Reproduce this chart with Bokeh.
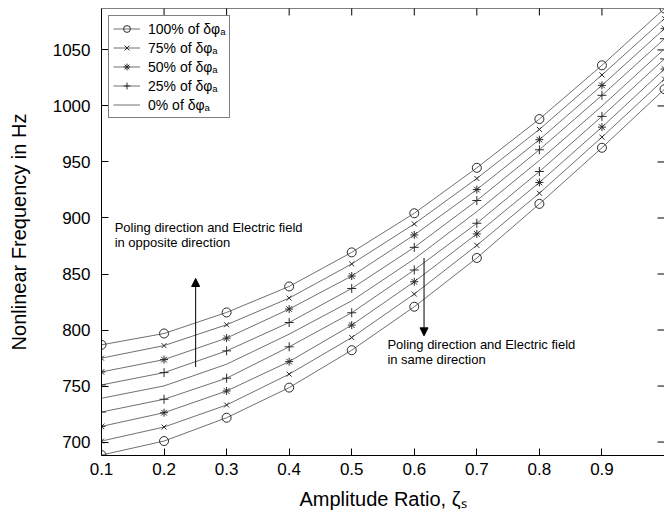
import math
from bokeh.plotting import figure
from bokeh.models import (Range1d, FixedTicker, Legend, LegendItem,
                          Arrow, NormalHead, Span)
from bokeh.embed import file_html
from bokeh.resources import INLINE
from bokeh.core.properties import value

# ---------------- data ----------------
x_ratio = [0.1, 0.2, 0.3, 0.4, 0.5, 0.6, 0.7, 0.8, 0.9, 1.0]

# poling direction and electric field in opposite direction (upper curves)
opp_100 = [786.8, 796.9, 815.7, 838.9, 869.3, 904.2, 944.8, 988.3, 1036.3, 1087.0]
opp_75 = [774.9, 786.1, 804.7, 828.5, 859.0, 894.7, 935.3, 979.1, 1027.7, 1078.0]
opp_50 = [762.6, 773.6, 792.8, 818.7, 848.2, 884.9, 925.4, 969.9, 1018.4, 1069.0]
opp_25 = [751.0, 762.0, 781.4, 806.7, 837.1, 873.8, 915.6, 960.9, 1009.5, 1060.0]
zero_0 = [739.1, 750.1, 769.5, 796.3, 826.1, 863.4, 905.7, 951.4, 999.9, 1051.0]
# poling direction and electric field in same direction (lower curves)
same_25 = [726.8, 738.2, 757.0, 785.0, 815.4, 853.6, 895.3, 941.5, 990.7, 1042.0]
same_50 = [714.0, 726.2, 745.6, 771.8, 804.4, 843.1, 885.8, 931.7, 981.1, 1033.0]
same_75 = [700.9, 713.4, 733.1, 760.6, 793.3, 832.1, 875.6, 922.1, 972.2, 1024.0]
same_100 = [688.4, 700.9, 721.7, 748.6, 782.0, 820.8, 864.3, 912.6, 962.7, 1015.0]

legend_labels = ["100% of δφₐ", "75% of δφₐ", "50% of δφₐ", "25% of δφₐ", "0% of δφₐ"]
x_ticks = [0.1, 0.2, 0.3, 0.4, 0.5, 0.6, 0.7, 0.8, 0.9, 1.0]
x_labeled_ticks = [0.1, 0.2, 0.3, 0.4, 0.5, 0.6, 0.7, 0.8, 0.9]
y_ticks = [700, 750, 800, 850, 900, 950, 1000, 1050]

note_opp = ["Poling direction and Electric field", "in opposite direction"]
note_same = ["Poling direction and Electric field", "in same direction"]

X_START, X_END = 0.1, 1.0
Y_START, Y_END = 688, 1087

# ---------------- figure ----------------
FONT = "Liberation Sans"
p = figure(width=664, height=520, output_backend="svg", toolbar_location=None,
           x_range=Range1d(X_START, X_END), y_range=Range1d(Y_START, Y_END),
           min_border_left=101, min_border_right=0, min_border_top=8,
           min_border_bottom=65)
p.grid.visible = False
p.outline_line_color = None
p.background_fill_color = "white"
p.border_fill_color = "white"

TICK = 7
for ax in (p.xaxis[0], p.yaxis[0]):
    ax.major_tick_in = TICK
    ax.major_tick_out = 0
    ax.minor_tick_line_color = None
    ax.axis_line_color = "black"
    ax.major_tick_line_color = "black"
    ax.major_label_text_font = FONT
    ax.major_label_text_color = "black"
    ax.major_label_text_font_size = "17px"
    ax.axis_label_text_font = FONT
    ax.axis_label_text_font_style = "normal"
    ax.axis_label_text_color = "black"
    ax.axis_label_text_font_size = "20px"

xa = p.xaxis[0]
ya = p.yaxis[0]
xa.ticker = FixedTicker(ticks=x_labeled_ticks)
ya.ticker = FixedTicker(ticks=y_ticks)
xa.axis_label = "Amplitude Ratio, ζₛ"
ya.axis_label = "Nonlinear Frequency in Hz"
xa.major_label_standoff = 7
xa.axis_label_standoff = 10
ya.major_label_standoff = 11
ya.axis_label_standoff = 20

# top frame edge (the right edge lies just outside the picture in the reference)
p.add_layout(Span(location=Y_END, dimension="width", line_color="black", line_width=1))

# inward ticks on the top and right edges (half of each dash is clipped by the frame)
p.scatter(x_ticks, [Y_END] * len(x_ticks), marker="dash", size=2 * TICK,
          angle=math.pi / 2, line_color="black", line_width=1)
p.scatter([X_END] * len(y_ticks), y_ticks, marker="dash", size=2 * TICK,
          line_color="black", line_width=1)

LINE_C = "#707070"
MARK_C = "#2a2a2a"

series = [
    (opp_100, "circle", 9), (opp_75, "x", 7), (opp_50, "asterisk", 8),
    (opp_25, "cross", 9), (zero_0, None, 0),
    (same_25, "cross", 9), (same_50, "asterisk", 8), (same_75, "x", 7),
    (same_100, "circle", 9),
]

legend_items = []
for i, (ys, marker, size) in enumerate(series):
    rs = []
    lr = p.line(x_ratio, ys, line_color=LINE_C, line_width=1)
    rs.append(lr)
    if marker:
        sr = p.scatter(x_ratio, ys, marker=marker, size=size, fill_color=None,
                       line_color=MARK_C, line_width=1)
        rs.append(sr)
    if i < 5:
        legend_items.append(LegendItem(label=legend_labels[i], renderers=rs))

legend = Legend(items=legend_items, location="top_left",
                label_text_font=FONT, label_text_font_size="14px",
                label_text_color="black",
                border_line_color="black", border_line_width=1,
                background_fill_color="white", background_fill_alpha=1,
                margin=7, padding=4, spacing=2, glyph_width=27, glyph_height=17,
                label_height=17, label_standoff=8)
p.add_layout(legend)

# annotations
p.text(x=[0.121, 0.121], y=[891.7, 877.7], text=note_opp,
       text_font=value(FONT), text_font_size="13px", text_baseline="middle",
       text_align="left", text_color="black")
p.text(x=[0.557, 0.557], y=[787.4, 773.3], text=note_same,
       text_font=value(FONT), text_font_size="13px", text_baseline="middle",
       text_align="left", text_color="black")
p.add_layout(Arrow(end=NormalHead(size=8, fill_color="black", line_color="black"),
                   x_start=0.2505, y_start=767, x_end=0.2505, y_end=846,
                   line_color="black", line_width=1))
p.add_layout(Arrow(end=NormalHead(size=8, fill_color="black", line_color="black"),
                   x_start=0.6156, y_start=864.3, x_end=0.6156, y_end=794.8,
                   line_color="black", line_width=1))

open("out.html", "w").write(file_html(p, INLINE))
